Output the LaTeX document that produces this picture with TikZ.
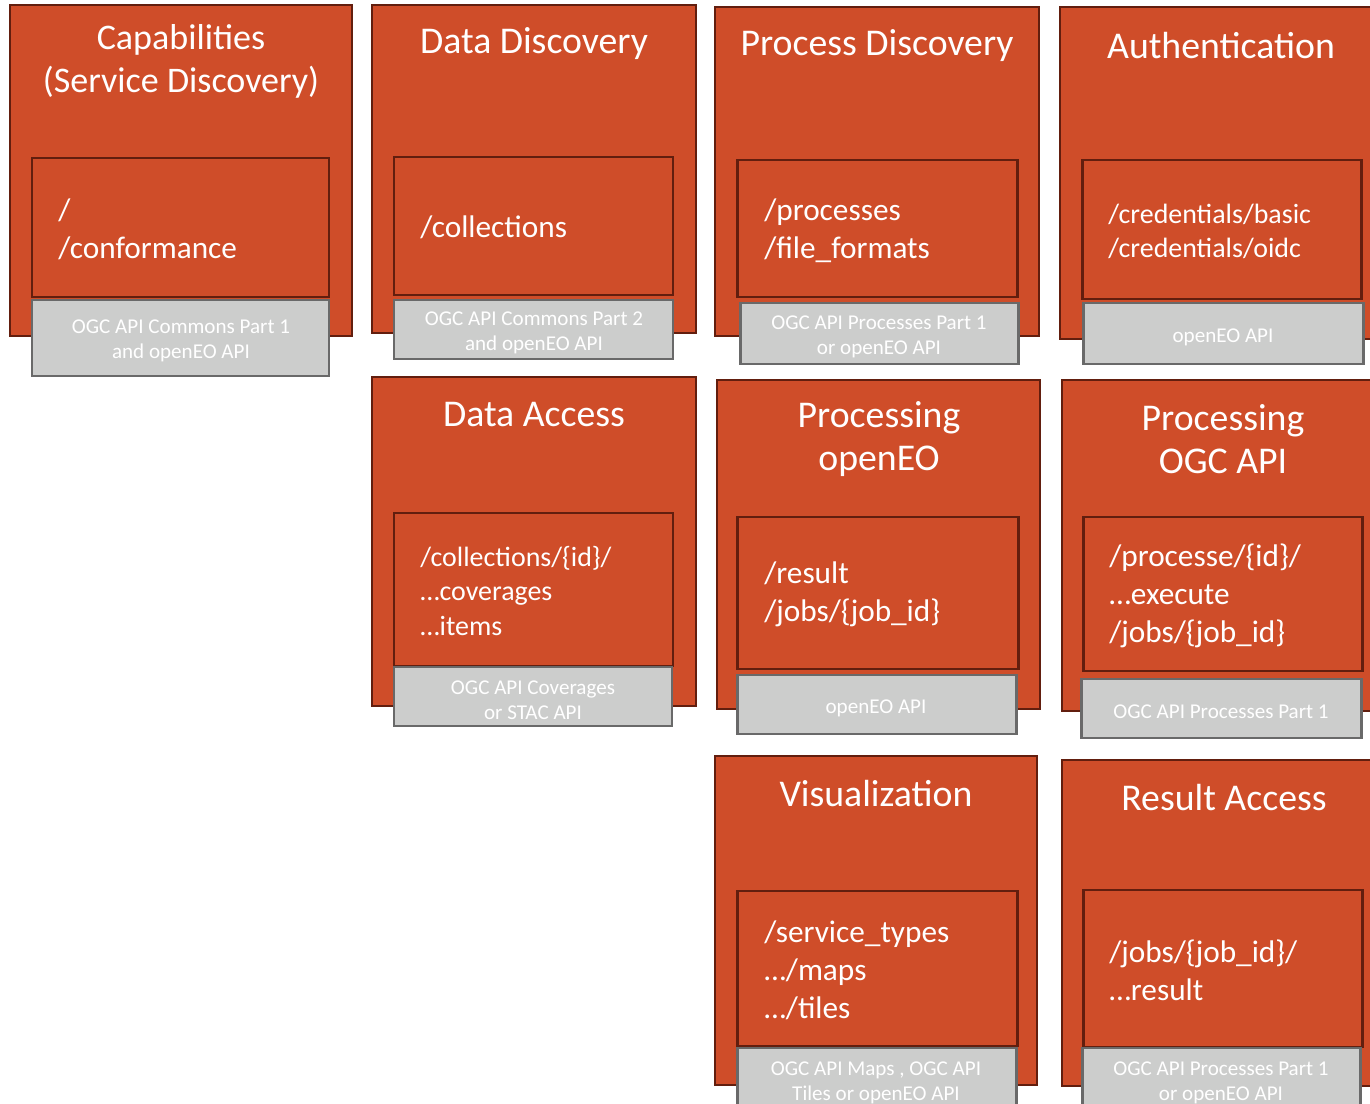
\documentclass[tikz,border=0pt]{standalone}
\usepackage{fontspec}
\setmainfont{Carlito}
\usepackage{tikz}
\usetikzlibrary{positioning}
\definecolor{boxfill}{RGB}{207,77,41}
\definecolor{boxedge}{RGB}{98,30,14}
\definecolor{apifill}{RGB}{204,205,204}
\definecolor{apiedge}{RGB}{105,105,105}

\tikzset{
	outerbox/.style={draw=boxedge, fill=boxfill, line width=1.4pt},
	innerbox/.style={draw=boxedge, fill=boxfill, line width=1.7pt},
	apibox/.style={draw=apiedge, fill=apifill, line width=1.7pt},
	heading/.style={text=white, inner sep=0, align=center, yshift=-0.06cm, font=\fontsize{21.5}{24.5}\selectfont},
	endpoint/.style={text=white, inner sep=0, align=left, anchor=west, font=\fontsize{17.8}{21.6}\selectfont},
	endpointsmall/.style={endpoint, font=\fontsize{15.9}{19.4}\selectfont},
	apinote/.style={text=white, inner sep=0, align=center, yshift=-0.06cm, font=\fontsize{12}{14.2}\selectfont}
}

\begin{document}
\begin{tikzpicture}[x=0.02cm, y=-0.02cm]
	\useasboundingbox (0,0) rectangle (1370,1104);
	\clip (0,0) rectangle (1370,1104);

	%% row 1
	\draw[outerbox] (10,5) rectangle (352,336);
	\draw[innerbox] (32,158) rectangle (329,297);
	\draw[apibox] (32,300) rectangle (329,376);
	\node[heading, font=\fontsize{20.5}{24.5}\selectfont] (capTitle) at (181,58) {Capabilities\\(Service Discovery)};
	\node[endpoint] (capPath) at (58,229) {/\\/conformance};
	\node[apinote] (capApi) at (181,338) {OGC API Commons Part 1\\and openEO API};

	\draw[outerbox] (372,5) rectangle (696,333);
	\draw[innerbox] (394,157) rectangle (673,295);
	\draw[apibox] (394,300) rectangle (673,359);
	\node[heading] (ddTitle) at (534,41) {Data Discovery};
	\node[endpoint] (ddPath) at (420,227) {/collections};
	\node[apinote] (ddApi) at (534,330) {OGC API Commons Part 2\\and openEO API};

	\draw[outerbox] (715,7) rectangle (1039,336);
	\draw[innerbox] (737,160) rectangle (1017,297);
	\draw[apibox] (740,303) rectangle (1018,364);
	\node[heading] (pdTitle) at (877,43) {Process Discovery};
	\node[endpoint] (pdPath) at (764,231) {/processes\\/file\_formats};
	\node[apinote] (pdApi) at (879,334) {OGC API Processes Part 1\\or openEO API};

	\draw[outerbox] (1060,7) rectangle (1390,339);
	\draw[innerbox] (1082,160) rectangle (1361,299);
	\draw[apibox] (1083,303) rectangle (1363,364);
	\node[heading] (authTitle) at (1221,43) {Authentication};
	\node[endpointsmall] (authPath) at (1108,231) {/credentials/basic\\/credentials/oidc};
	\node[apinote] (authApi) at (1223,334) {openEO API};

	%% row 2
	\draw[outerbox] (372,377) rectangle (696,706);
	\draw[innerbox] (394,513) rectangle (673,666);
	\draw[apibox] (394,667) rectangle (672,726);
	\node[heading] (daTitle) at (534,412) {Data Access};
	\node[endpointsmall] (daPath) at (420,591) {/collections/\{id\}/\\…coverages\\…items};
	\node[apinote] (daApi) at (533,697) {OGC API Coverages\\or STAC API};

	\draw[outerbox] (717,380) rectangle (1040,709);
	\draw[innerbox] (737,517) rectangle (1018,669);
	\draw[apibox] (737,675) rectangle (1016,734);
	\node[heading] (poTitle) at (879,436) {Processing\\openEO};
	\node[endpoint] (poPath) at (764,594) {/result\\/jobs/\{job\_id\}};
	\node[apinote] (poApi) at (876,705) {openEO API};

	\draw[outerbox] (1062,380) rectangle (1390,711);
	\draw[innerbox] (1083,517) rectangle (1362,671);
	\draw[apibox] (1081,679) rectangle (1361,738);
	\node[heading] (pgTitle) at (1223,436) {Processing\\OGC API};
	\node[endpoint] (pgPath) at (1109,596) {/processe/\{id\}/\\…execute\\/jobs/\{job\_id\}};
	\node[apinote] (pgApi) at (1221,709) {OGC API Processes Part 1};

	%% row 3
	\draw[outerbox] (715,756) rectangle (1037,1085);
	\draw[innerbox] (737,891) rectangle (1017,1046);
	\draw[apibox] (737,1048) rectangle (1016,1118);
	\node[heading] (visTitle) at (876,791) {Visualization};
	\node[endpoint] (visPath) at (764,970) {/service\_types\\…/maps\\…/tiles};
	\node[apinote] (visApi) at (876,1080) {OGC API Maps , OGC API\\Tiles or openEO API};

	\draw[outerbox] (1062,760) rectangle (1390,1086);
	\draw[innerbox] (1083,890) rectangle (1362,1047);
	\draw[apibox] (1082,1048) rectangle (1360,1118);
	\node[heading] (raTitle) at (1224,795) {Result Access};
	\node[endpoint] (raPath) at (1109,970) {/jobs/\{job\_id\}/\\…result};
	\node[apinote] (raApi) at (1221,1080) {OGC API Processes Part 1\\or openEO API};
\end{tikzpicture}
\end{document}
